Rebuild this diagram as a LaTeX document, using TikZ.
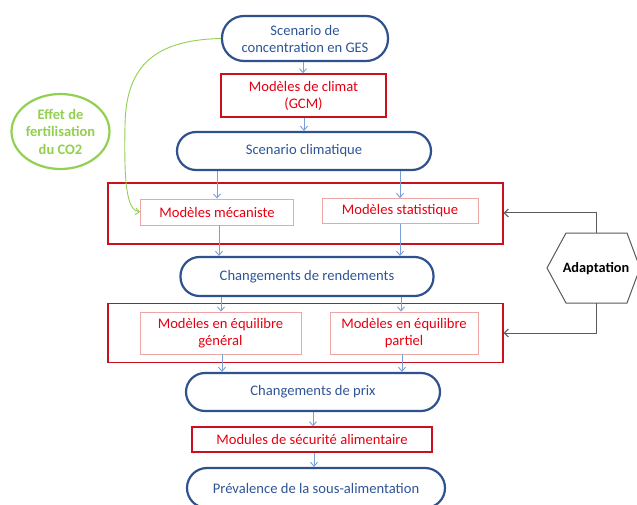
\documentclass[tikz,border=0pt]{standalone}
\usepackage{fontspec}
\setmainfont{Carlito}
\usetikzlibrary{arrows.meta,shapes.geometric}
\definecolor{dblue}{RGB}{47,82,143}
\definecolor{tblue}{RGB}{47,85,151}
\definecolor{lblue}{RGB}{120,160,215}
\definecolor{mred}{RGB}{200,16,30}
\definecolor{tred}{RGB}{230,0,18}
\definecolor{pred}{RGB}{240,165,165}
\definecolor{lgreen}{RGB}{146,208,80}
\definecolor{hgray}{RGB}{90,90,90}
\begin{document}
\begin{tikzpicture}[x=1pt,y=-1pt,
  stadium/.style={draw=dblue,line width=2.2pt,fill=white,rounded corners=#1,text=tblue,align=center,font=\fontsize{14.6}{17}\selectfont,inner sep=0pt},
  redbox/.style={draw=mred,line width=1.4pt,text=tred,align=center,font=\fontsize{14.6}{17}\selectfont,inner sep=0pt},
  bigbox/.style={draw=mred,line width=1.4pt,inner sep=0pt},
  palebox/.style={draw=pred,line width=0.9pt,fill=white,text=tred,align=center,font=\fontsize{14.6}{17}\selectfont,inner sep=0pt},
  barrow/.style={draw=lblue,line width=0.9pt,-{Straight Barb[length=4pt,width=7pt]}},
  garrow/.style={draw=lgreen,line width=0.9pt,-{Straight Barb[length=4pt,width=7pt]}},
  karrow/.style={draw=hgray,line width=1pt,-{Straight Barb[length=4pt,width=8pt]}}
]
\useasboundingbox[fill=white] (0,0) rectangle (637,505);

% big boxes
\node[bigbox,minimum width=395pt,minimum height=61pt] (big1) at (305.5,213.5) {};
\node[bigbox,minimum width=395pt,minimum height=59pt] (big2) at (305.5,333) {};

% flow nodes
\node[stadium=22pt,minimum width=166pt,minimum height=45pt] (ges) at (305,38.5) {Scenario de\\concentration en GES};
\node[redbox,minimum width=165pt,minimum height=43pt] (gcm) at (303.5,95.5) {Modèles de climat\\(GCM)};
\node[stadium=19pt,minimum width=254pt,minimum height=38pt] (sc) at (304,151) {Scenario climatique};
\node[palebox,minimum width=153pt,minimum height=26pt] (mec) at (217,212) {Modèles mécaniste};
\node[palebox,minimum width=156pt,minimum height=25pt] (stat) at (400,211) {Modèles statistique};
\node[stadium=19pt,minimum width=253pt,minimum height=39pt] (rend) at (307,276.5) {Changements de rendements};
\node[palebox,minimum width=161pt,minimum height=42pt] (gen) at (220.5,333) {Modèles en équilibre\\général};
\node[palebox,minimum width=148pt,minimum height=42pt] (part) at (404,333) {Modèles en équilibre\\partiel};
\node[stadium=19pt,minimum width=254pt,minimum height=38pt] (prix) at (313,392) {Changements de prix};
\node[redbox,minimum width=240pt,minimum height=25pt] (mod) at (312,439.5) {Modules de sécurité alimentaire};
\node[stadium=20pt,minimum width=258pt,minimum height=40pt] (prev) at (316,488) {Prévalence de la sous-alimentation};

% green ellipse
\node[ellipse,draw=lgreen,line width=2.2pt,minimum width=97pt,minimum height=75pt,inner sep=0pt,align=center,text=lgreen,font=\bfseries\fontsize{14.5}{17.5}\selectfont] (co2) at (60.5,131.5) {Effet de\\fertilisation\\du CO2};

% hexagon
\coordinate (hexT) at (596,233);
\coordinate (hexB) at (596,303);
\draw[hgray,line width=1pt,fill=white] (547,268) -- (566,233) -- (627,233) -- (640,268) -- (627,303) -- (566,303) -- cycle;
\node[font=\bfseries\fontsize{14.3}{17}\selectfont,text=black] (adapt) at (596,269) {Adaptation};

% blue arrows
\draw[barrow] (ges.south -| 303,0) -- (gcm.north -| 303,0);
\draw[barrow] (gcm.south -| 304,0) -- (sc.north -| 304,0);
\draw[barrow] (sc.south -| mec.north) -- (mec.north);
\draw[barrow] (sc.south -| stat.north) -- (stat.north);
\draw[barrow] (mec.south -| 219,0) -- (rend.north -| 219,0);
\draw[barrow] (stat.south -| 400,0) -- (rend.north -| 400,0);
\draw[barrow] (rend.south -| 221,0) -- (gen.north -| 221,0);
\draw[barrow] (rend.south -| 401,0) -- (part.north -| 401,0);
\draw[barrow] (gen.south -| 222,0) -- (prix.north -| 222,0);
\draw[barrow] (part.south -| 402,0) -- (prix.north -| 402,0);
\draw[barrow] (prix.south -| 313,0) -- (mod.north -| 313,0);
\draw[barrow] (mod.south -| 314,0) -- (prev.north -| 314,0);

% green curve
\draw[garrow] (ges.west) .. controls (150,40) and (126,70) .. (125,125)
  .. controls (124,180) and (126,210) .. (mec.west);

% adaptation connectors
\draw[karrow] (hexT) |- (big1.east |- 0,213);
\draw[karrow] (hexB) |- (big2.east |- 0,333);
\end{tikzpicture}
\end{document}
